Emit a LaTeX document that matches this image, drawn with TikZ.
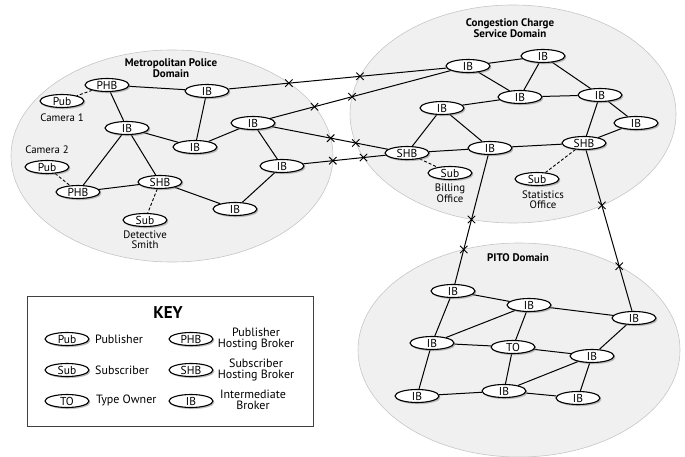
\documentclass[tikz,border=0pt]{standalone}
\usepackage{fontspec}
\setmainfont{PT Sans}
\usetikzlibrary{shapes.geometric,shapes.misc,shadows,intersections}
\pgfdeclarelayer{bg}
\pgfdeclarelayer{mid}
\pgfsetlayers{bg,mid,main}
\begin{document}
\begin{tikzpicture}[x=1pt,y=-1pt,
  dom/.style={fill=gray!12, draw=gray!45, line width=0.6pt},
  nd/.style={ellipse, draw, fill=white, line width=1.1pt, minimum width=44pt, minimum height=13pt, inner sep=0pt,
    font=\fontsize{11.5}{11.5}\selectfont,
    drop shadow={shadow xshift=1.4pt, shadow yshift=-1.6pt, opacity=0.5}},
  ln/.style={line width=1pt},
  dsh/.style={line width=0.9pt, dash pattern=on 3pt off 2pt},
  lbl/.style={font=\fontsize{10.8}{9.8}\selectfont, align=center, inner sep=0pt},
  ttl/.style={font=\bfseries\fontsize{11}{10}\selectfont, align=center, inner sep=0pt},
  xmark/.style={cross out, draw, line width=0.9pt, minimum size=6.5pt, inner sep=0pt},
  keylbl/.style={font=\fontsize{12}{10.5}\selectfont, align=center, inner sep=0pt}
]
\useasboundingbox (0,0) rectangle (685,457);

\begin{pgfonlayer}{bg}
\path[dom, name path global=met] (172,156) ellipse [x radius=161pt, y radius=106pt];
\path[dom, name path global=cc] (513,114) ellipse [x radius=163pt, y radius=109pt];
\path[dom, name path global=pito] (519,350) ellipse [x radius=161pt, y radius=107pt];
\end{pgfonlayer}

% titles
\node[ttl] (tmet) at (171,68) {Metropolitan Police\\Domain};
\node[ttl] (tcc) at (510,28) {Congestion Charge\\Service Domain};
\node[ttl] (tpito) at (518,258) {PITO Domain};

% Metropolitan Police nodes
\node[nd] (mphb1) at (107,85) {PHB};
\node[nd] (mpub1) at (62,101) {Pub};
\node[lbl] (lcam1) at (62,118) {Camera 1};
\node[nd] (mib1) at (207,91) {IB};
\node[nd] (mib2) at (127,128) {IB};
\node[nd] (mib3) at (195,147) {IB};
\node[nd] (mib4) at (253,123) {IB};
\node[nd] (mib5) at (282,166) {IB};
\node[nd] (mib6) at (235,209) {IB};
\node[nd] (mshb) at (160,182) {SHB};
\node[nd] (mphb2) at (78,192) {PHB};
\node[nd] (mpub2) at (47,167) {Pub};
\node[lbl] (lcam2) at (47,150) {Camera 2};
\node[nd] (msub) at (145,220) {Sub};
\node[lbl] (ldet) at (145,239.5) {Detective\\Smith};

% Congestion Charge nodes
\node[nd] (cib1) at (468,66) {IB};
\node[nd] (cib2) at (543,56) {IB};
\node[nd] (cib3) at (520,97) {IB};
\node[nd] (cib4) at (600,95) {IB};
\node[nd] (cib5) at (442,108) {IB};
\node[nd] (cib6) at (636,123) {IB};
\node[nd] (cshb1) at (407,153) {SHB};
\node[nd] (cib7) at (490,148) {IB};
\node[nd] (cshb2) at (584,143) {SHB};
\node[nd] (csub1) at (450,173) {Sub};
\node[lbl] (lbill) at (450,193) {Billing\\Office};
\node[nd] (csub2) at (537,179) {Sub};
\node[lbl] (lstat) at (543,199.5) {Statistics\\Office};

% PITO nodes
\node[nd] (pib1) at (453,291) {IB};
\node[nd] (pib2) at (529,305) {IB};
\node[nd] (pib3) at (634,318) {IB};
\node[nd] (pib4) at (432,343) {IB};
\node[nd] (pto) at (513,347) {TO};
\node[nd] (pib5) at (592,356) {IB};
\node[nd] (pib6) at (417,396) {IB};
\node[nd] (pib7) at (504,391) {IB};
\node[nd] (pib8) at (578,398) {IB};

% Key
\node[draw=black!75, line width=0.8pt, minimum width=286pt, minimum height=130pt, inner sep=0pt] (key) at (170,361) {};
\node[font=\bfseries\fontsize{17}{17}\selectfont, inner sep=0pt] (keyt) at (168,313) {KEY};
\node[nd] (kpub) at (67,339) {Pub};
\node[keylbl, anchor=west] (kpubl) at (95,339) {Publisher};
\node[nd] (ksub) at (67,370) {Sub};
\node[keylbl, anchor=west] (ksubl) at (95,370) {Subscriber};
\node[nd] (kto) at (67,401) {TO};
\node[keylbl, anchor=west] (ktol) at (96,400) {Type Owner};
\node[nd] (kphb) at (191,339) {PHB};
\node[keylbl] (kphbl) at (256,339) {Publisher\\Hosting Broker};
\node[nd] (kshb) at (191,370) {SHB};
\node[keylbl] (kshbl) at (256,370) {Subscriber\\Hosting Broker};
\node[nd] (kib) at (191,401) {IB};
\node[keylbl] (kibl) at (253,400) {Intermediate\\Broker};

\begin{pgfonlayer}{mid}
% Met edges
\draw[ln] (mphb1) -- (mib1);
\draw[ln] (mphb1) -- (mib2);
\draw[dsh] (mphb1) -- (mpub1);
\draw[ln] (mib1) -- (mib3);
\draw[ln] (mib2) -- (mib3);
\draw[ln] (mib2) -- (mphb2);
\draw[ln] (mib2) -- (mshb);
\draw[ln] (mib3) -- (mib4);
\draw[ln] (mib4) -- (mib5);
\draw[ln] (mib5) -- (mib6);
\draw[ln] (mshb) -- (mib6);
\draw[ln] (mphb2) -- (mshb);
\draw[dsh] (mpub2) -- (mphb2);
\draw[dsh] (mshb) -- (msub);
% CC edges
\draw[ln] (cib1) -- (cib2);
\draw[ln] (cib1) -- (cib3);
\draw[ln] (cib2) -- (cib3);
\draw[ln] (cib2) -- (cib4);
\draw[ln] (cib3) -- (cib4);
\draw[ln] (cib3) -- (cib5);
\draw[ln] (cib5) -- (cshb1);
\draw[ln] (cib5) -- (cib7);
\draw[ln] (cshb1) -- (cib7);
\draw[ln] (cib7) -- (cshb2);
\draw[ln] (cib4) -- (cshb2);
\draw[ln] (cib6) -- (cib4);
\draw[ln] (cib6) -- (cshb2);
\draw[dsh] (cshb1) -- (csub1);
\draw[dsh] (cshb2) -- (csub2);
% PITO edges
\draw[ln] (pib1) -- (pib2);
\draw[ln] (pib1) -- (pib4);
\draw[ln] (pib2) -- (pib3);
\draw[ln] (pib2) -- (pib4);
\draw[ln] (pib2) -- (pto);
\draw[ln] (pib4) -- (pto);
\draw[ln] (pib4) -- (pib6);
\draw[ln] (pto) -- (pib5);
\draw[ln] (pto) -- (pib7);
\draw[ln] (pib3) -- (pib5);
\draw[ln] (pib5) -- (pib7);
\draw[ln] (pib5) -- (pib8);
\draw[ln] (pib6) -- (pib7);
\draw[ln] (pib7) -- (pib8);
% inter-domain edges
\draw[ln, name path=e1] (mib1) -- (cib1);
\draw[ln, name path=e2] (mib4) -- (cib1);
\draw[ln, name path=e3] (mib4) -- (cshb1);
\draw[ln, name path=e4] (mib5) -- (cshb1);
\draw[ln, name path=e5] (cib7) -- (pib1);
\draw[ln, name path=e6] (cshb2) -- (pib3);
\path[name intersections={of=met and e1, by=x1a}];
\path[name intersections={of=cc and e1, by=x1b}];
\path[name intersections={of=met and e2, by=x2a}];
\path[name intersections={of=cc and e2, by=x2b}];
\path[name intersections={of=met and e3, by=x3a}];
\path[name intersections={of=cc and e3, by=x3b}];
\path[name intersections={of=met and e4, by=x4a}];
\path[name intersections={of=cc and e4, by=x4b}];
\path[name intersections={of=cc and e5, by=x5a}];
\path[name intersections={of=pito and e5, by=x5b}];
\path[name intersections={of=cc and e6, by=x6a}];
\path[name intersections={of=pito and e6, by=x6b}];
\foreach \p in {x1a,x1b,x2a,x2b,x3a,x3b,x4a,x4b,x5a,x5b,x6a,x6b}
  \node[xmark] at (\p) {};
\end{pgfonlayer}
\end{tikzpicture}
\end{document}
